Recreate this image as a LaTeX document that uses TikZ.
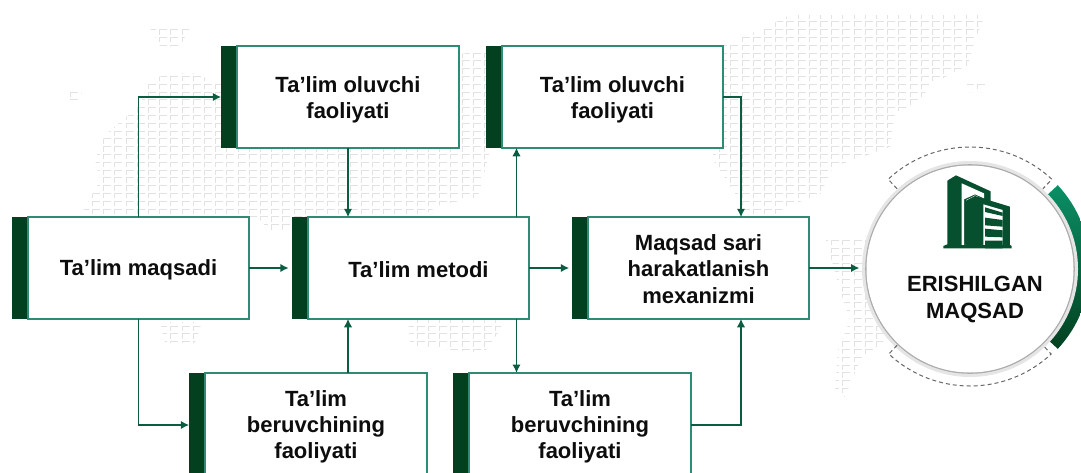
\documentclass[tikz,border=0pt]{standalone}
\usepackage{fontspec}
\setmainfont{Liberation Sans}
\usetikzlibrary{arrows.meta,calc}
\definecolor{barg}{HTML}{03401F}
\definecolor{edgeg}{HTML}{2F8B73}
\definecolor{lineg}{HTML}{0B5D41}
\definecolor{iconel}{HTML}{07502F}
\definecolor{mapg}{HTML}{E2E2E2}
\definecolor{ringtop}{HTML}{0B8F66}
\definecolor{ringmid}{HTML}{0A6A48}
\tikzset{
  boxn/.style={draw=edgeg,fill=white,line width=1.6pt,minimum height=101.5pt,minimum width=#1,inner sep=0pt,outer sep=0pt},
  tallbox/.style={boxn=#1,minimum height=104pt},
  lbl/.style={inner sep=0pt,outer sep=0pt,align=center,font=\bfseries\fontsize{22}{26.3}\selectfont,text=black!95},
  barn/.style={fill=barg,minimum width=16.5pt,minimum height=#1,inner sep=0pt,outer sep=0pt},
  conn/.style={draw=lineg,line width=1.7pt,-{Latex[length=8.5pt,width=8.5pt]}},
}
\begin{document}
\begin{tikzpicture}[x=1pt,y=1pt]
\useasboundingbox (0,-472) rectangle (1081,0);
\clip (0,-472) rectangle (1081,0);
% world map dots
\begin{scope}
\clip (140,-105)--(150,-78)--(190,-72)--(225,-85)--(490,-50)--(490,-150)--(478,-197)--(440,-205)--(420,-217)--(270,-232)--(258,-217)--(80,-217)--(100,-180)--(95,-160)--(105,-135)--cycle
 (150,-28)--(190,-28)--(180,-46)--(160,-46)--cycle
 (58,-90)--(82,-90)--(80,-100)--(60,-100)--cycle
 (160,-322)--(202,-322)--(195,-343)--(165,-343)--cycle
 (408,-319)--(503,-319)--(500,-330)--(486,-350)--(470,-352)--(410,-345)--cycle
 (723,-45)--(760,-30)--(790,-15)--(985,-15)--(975,-40)--(968,-65)--(930,-85)--(917,-105)--(895,-112)--(890,-147)--(833,-167)--(820,-195)--(790,-205)--(770,-217)--(750,-217)--(736,-195)--(713,-160)--(713,-100)--cycle
 (967,-83)--(988,-83)--(988,-92)--(967,-92)--cycle
 (826,-240)--(880,-235)--(880,-300)--(885,-340)--(860,-360)--(845,-397)--(835,-390)--(838,-350)--(850,-320)--(840,-290)--cycle;
\draw[mapg,line width=0.8pt]
 \foreach \i in {0,...,83}{\foreach \j in {0,...,50}{
   ({70+\i*11.2},{-14-\j*7.8-5}) -- ++(0,5) -- ++(7.5,0)
 }};
\end{scope}
% boxes and their bars
\node[barn=101.5pt] (barA) at (20,-268) {};
\node[boxn=221pt] (A) at (138.5,-268) {};
\node[barn=101.5pt] (barB) at (229.5,-97) {};
\node[boxn=222pt] (B) at (348,-97) {};
\node[barn=101.5pt] (barC) at (300,-268) {};
\node[boxn=221pt] (C) at (418.5,-268) {};
\node[barn=101.5pt] (barD) at (494.5,-97) {};
\node[boxn=221pt] (D) at (612.5,-97) {};
\node[barn=101.5pt] (barE) at (580.5,-268) {};
\node[boxn=221pt] (E) at (698.5,-268) {};
\node[barn=104pt] (barF) at (197.5,-425) {};
\node[tallbox=222pt] (F) at (316,-425) {};
\node[barn=104pt] (barG) at (461.5,-425) {};
\node[tallbox=222pt] (G) at (580,-425) {};
% box texts
\node[lbl] (tA) at ($(A)+(0,-2)$) {Ta’lim maqsadi};
\node[lbl] (tB) at ($(B)+(0,-2.5)$) {Ta’lim oluvchi\\faoliyati};
\node[lbl] (tC) at ($(C)+(0,-2)$) {Ta’lim metodi};
\node[lbl] (tD) at ($(D)+(0,-2.5)$) {Ta’lim oluvchi\\faoliyati};
\node[lbl] (tE) at ($(E)+(0,-1)$) {Maqsad sari\\harakatlanish\\mexanizmi};
\node[lbl] (tF) at ($(F)+(0,-2)$) {Ta’lim\\beruvchining\\faoliyati};
\node[lbl] (tG) at ($(G)+(0,-2)$) {Ta’lim\\beruvchining\\faoliyati};
% goal circle
\coordinate (cc) at (970,-269);
\coordinate (dc) at (970,-267);
\shade[top color=ringtop,middle color=ringmid,bottom color=barg]
  ($(dc)+(43:120)$) arc (43:-43:120) -- ($(dc)+(-43:105)$) arc (-43:43:105) -- cycle;
\draw[gray!20,line width=4pt] (cc) circle (106);
\draw[gray!65,line width=1.6pt] (cc) circle (104);
\node[circle,fill=white,minimum size=207pt,inner sep=0pt,outer sep=0pt] (goal) at (cc) {};
\draw[black!60,line width=1pt,dash pattern=on 4pt off 3pt]
  ($(dc)+(133:107)$) -- ($(dc)+(133:120)$) arc (133:47:120) -- ($(dc)+(47:107)$);
\draw[black!60,line width=1pt,dash pattern=on 4pt off 3pt]
  ($(dc)+(-133:107)$) -- ($(dc)+(-133:119)$) arc (-133:-47:119) -- ($(dc)+(-47:107)$);
\node[font=\bfseries\fontsize{22}{26.5}\selectfont,align=center,text=black!95,inner sep=0pt] (goaltext) at (975,-299.5) {ERISHILGAN\\MAQSAD};
% building icon
\begin{scope}[shift={(860,-150)},x=0.3333pt,y=-0.3333pt]
\fill[iconel] (250,295)--(250,288)--(262,283)--(262,92)--(288,76)--(392,124)--(392,158)--(345,136)--(318,150)--(318,283)--(310,288)--(308,295)--cycle;
\fill[white] (305,100)--(372,130)--(372,145)--(345,133)--(312,148)--(312,285)--(305,285)--cycle;
\fill[iconel] (308,295)--(308,288)--(318,283)--(318,152)--(345,138)--(450,170)--(450,285)--(455,288)--(455,295)--cycle;
\fill[white] (370,163)--(428,180)--(428,285)--(370,285)--cycle;
\fill[iconel] (375,172)--(428,188)--(428,198)--(375,186)--cycle
  (375,203)--(428,210)--(428,230)--(375,226)--cycle
  (375,236)--(428,241)--(428,262)--(375,260)--cycle
  (375,272)--(428,272)--(428,295)--(375,295)--cycle;
\end{scope}
% connectors
\draw[conn] (A.north) |- (barB.west);
\draw[conn] (A.south) |- (barF.west);
\draw[conn] (A.east) -- ($(barC.west)+(-3,0)$);
\draw[conn] (B.south) -- (B.south |- C.north);
\draw[conn] (B.south |- F.north) -- (B.south |- C.south);
\coordinate (cup) at ($(C.north)+(98,0)$);
\draw[conn] (cup) -- (cup |- D.south);
\draw[conn] (cup |- C.south) -- (cup |- G.north);
\draw[conn] (C.east) -- ($(barE.west)+(-3,0)$);
\coordinate (eup) at ($(E.north)+(42.5,0)$);
\draw[conn] (D.east) -| (eup);
\draw[conn] (G.east) -| (eup |- E.south);
\coordinate (goalin) at ($(goal.west)+(-7,0)$);
\draw[conn] (E.east) -- (E.east -| goalin);
\end{tikzpicture}
\end{document}
